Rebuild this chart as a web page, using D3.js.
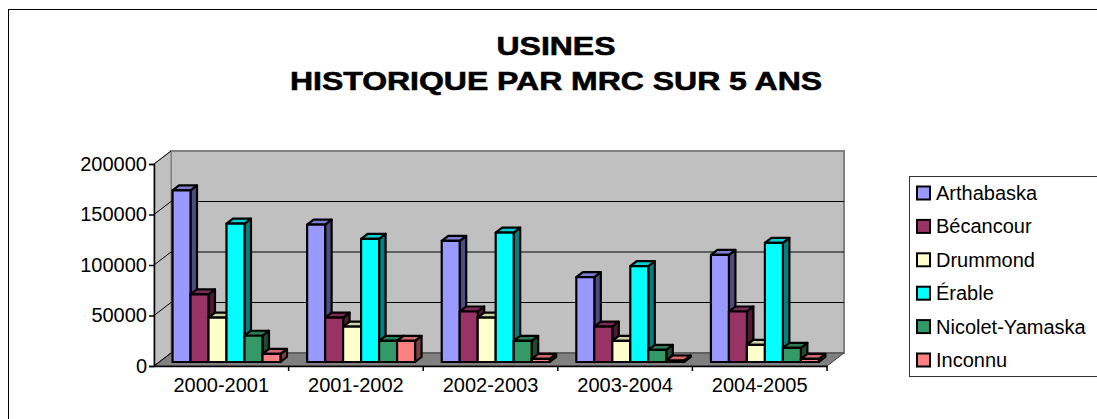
<!DOCTYPE html>
<html>
<head>
<meta charset="utf-8">
<script src="https://cdn.jsdelivr.net/npm/d3@7"></script>
<style>
  body { margin: 0; background: #fff; }
  text { font-family: "Liberation Sans", Arial, sans-serif; }
</style>
</head>
<body>
<div id="chart"></div>
<script>
// data
var categories = ["2000-2001", "2001-2002", "2002-2003", "2003-2004", "2004-2005"];
var seriesNames = ["Arthabaska", "Bécancour", "Drummond", "Érable", "Nicolet-Yamaska", "Inconnu"];
var seriesColors = ["#9999FF", "#993366", "#FFFFCC", "#00FFFF", "#339966", "#FF8080"];
var arthabaska = [170000, 136000, 120000, 84000, 106000];
var becancour = [67000, 44000, 50000, 35000, 50000];
var drummond = [44000, 35000, 44000, 21000, 17000];
var erable = [137000, 122000, 128000, 95000, 118000];
var nicoletYamaska = [26000, 21000, 21000, 12000, 14000];
var inconnu = [8000, 21000, 3000, 1500, 3000];
var yTicks = [0, 50000, 100000, 150000, 200000];
var titleLines = ["USINES", "HISTORIQUE PAR MRC SUR 5 ANS"];

var seriesValues = [arthabaska, becancour, drummond, erable, nicoletYamaska, inconnu];

var width = 1097, height = 419;

// front plane of the 3d box
var plot = {left: 154, right: 827, top: 164, bottom: 366};
// depth offset of the back wall
var wallDx = 17, wallDy = -13;
// bars sit at part of the depth
var barDx0 = 5.2, barDy0 = -4, barDx = 6.5, barDy = -5;

var svg = d3.select("#chart").append("svg")
    .attr("width", width)
    .attr("height", height);

// outer chart border
svg.append("rect")
    .attr("x", 8.5).attr("y", 9.5)
    .attr("width", 1100).attr("height", 420)
    .attr("fill", "none")
    .attr("stroke", "#000")
    .attr("stroke-width", 1);

// title
svg.selectAll(".title")
    .data(titleLines)
    .enter()
    .append("text")
    .attr("class", "title")
    .attr("text-anchor", "middle")
    .attr("font-weight", "bold")
    .attr("font-size", 26)
    .attr("stroke", "#000")
    .attr("stroke-width", 0.6)
    .attr("transform", function(d, i) { return "translate(556," + (55 + i * 35) + ") scale(1.23,1)"; })
    .text(function(d) { return d; });

// scales
var y = d3.scaleLinear().domain([0, 200000]).range([plot.bottom, plot.top]);
var x0 = d3.scaleBand().domain(categories).range([plot.left, plot.right]);
var groupGap = x0.bandwidth() * 0.198;
var x1 = d3.scaleBand().domain(seriesNames).range([groupGap / 2, x0.bandwidth() - groupGap / 2]);
var color = d3.scaleOrdinal().domain(seriesNames).range(seriesColors);

function pts(a) { return a.map(function(p) { return p.join(","); }).join(" "); }

// back wall
svg.append("polygon")
    .attr("points", pts([[plot.left + wallDx, y(200000) + wallDy], [plot.right + wallDx, y(200000) + wallDy],
        [plot.right + wallDx, y(0) + wallDy], [plot.left + wallDx, y(0) + wallDy]]))
    .attr("fill", "#C0C0C0")
    .attr("stroke", "#808080")
    .attr("stroke-width", 2);

// side wall
svg.append("polygon")
    .attr("points", pts([[plot.left, y(200000)], [plot.left + wallDx, y(200000) + wallDy],
        [plot.left + wallDx, y(0) + wallDy], [plot.left, y(0)]]))
    .attr("fill", "#C0C0C0")
    .attr("stroke", "#808080")
    .attr("stroke-width", 1);

// floor
svg.append("polygon")
    .attr("points", pts([[plot.left, y(0)], [plot.left + wallDx, y(0) + wallDy],
        [plot.right + wallDx, y(0) + wallDy], [plot.right, y(0)]]))
    .attr("fill", "#808080")
    .attr("stroke", "#404040")
    .attr("stroke-width", 1);

// gridlines on back and side walls
var grid = yTicks.filter(function(d) { return d > 0 && d < 200000; });
svg.selectAll(".gridBack")
    .data(grid)
    .enter()
    .append("line")
    .attr("x1", plot.left + wallDx).attr("x2", plot.right + wallDx)
    .attr("y1", function(d) { return y(d) + wallDy; })
    .attr("y2", function(d) { return y(d) + wallDy; })
    .attr("stroke", "#000")
    .attr("stroke-width", 1);
svg.selectAll(".gridSide")
    .data(yTicks)
    .enter()
    .append("line")
    .attr("x1", plot.left).attr("x2", plot.left + wallDx)
    .attr("y1", function(d) { return y(d); })
    .attr("y2", function(d) { return y(d) + wallDy; })
    .attr("stroke", "#000")
    .attr("stroke-width", 1);

// bars, drawn left to right so the next front face hides the side face
var bars = [];
categories.forEach(function(c, ci) {
    seriesNames.forEach(function(s, si) {
        bars.push({cat: c, name: s, value: seriesValues[si][ci]});
    });
});

var barGroup = svg.selectAll(".bar")
    .data(bars)
    .enter()
    .append("g")
    .attr("class", "bar");

function barGeom(d) {
    var xl = x0(d.cat) + x1(d.name) + barDx0;
    var xr = xl + x1.bandwidth();
    var yt = y(d.value) + barDy0;
    var yb = y(0) + barDy0;
    return {xl: xl, xr: xr, yt: yt, yb: yb};
}

// side face
barGroup.append("polygon")
    .attr("points", function(d) {
        var g = barGeom(d);
        return pts([[g.xr, g.yt], [g.xr + barDx, g.yt + barDy], [g.xr + barDx, g.yb + barDy], [g.xr, g.yb]]);
    })
    .attr("fill", function(d) { var c = d3.rgb(color(d.name)); return d3.rgb(c.r * 0.5, c.g * 0.5, c.b * 0.5); })
    .attr("stroke", "#000")
    .attr("stroke-width", 2.2)
    .attr("stroke-linejoin", "round");

// top face
barGroup.append("polygon")
    .attr("points", function(d) {
        var g = barGeom(d);
        return pts([[g.xl, g.yt], [g.xl + barDx, g.yt + barDy], [g.xr + barDx, g.yt + barDy], [g.xr, g.yt]]);
    })
    .attr("fill", function(d) { var c = d3.rgb(color(d.name)); return d3.rgb(c.r * 0.82, c.g * 0.82, c.b * 0.82); })
    .attr("stroke", "#000")
    .attr("stroke-width", 2.2)
    .attr("stroke-linejoin", "round");

// front face
barGroup.append("rect")
    .attr("x", function(d) { return barGeom(d).xl; })
    .attr("y", function(d) { return barGeom(d).yt; })
    .attr("width", x1.bandwidth())
    .attr("height", function(d) { var g = barGeom(d); return g.yb - g.yt; })
    .attr("fill", function(d) { return color(d.name); })
    .attr("stroke", "#000")
    .attr("stroke-width", 2.2)
    .attr("stroke-linejoin", "round");

// y axis
var yAxis = svg.append("g")
    .attr("transform", "translate(" + plot.left + ",0)")
    .call(d3.axisLeft(y).tickValues(yTicks).tickSize(5).tickPadding(2).tickFormat(d3.format("d")));
yAxis.select(".domain").attr("stroke", "#000").attr("stroke-width", 1.5);
yAxis.selectAll(".tick line").attr("stroke", "#000").attr("stroke-width", 1.5);
yAxis.selectAll(".tick text")
    .attr("font-size", 20)
    .attr("font-family", "Liberation Sans, Arial, sans-serif")
    .attr("fill", "#000");

// x axis
var xAxis = svg.append("g")
    .attr("transform", "translate(0," + plot.bottom + ")")
    .call(d3.axisBottom(x0).tickSize(0).tickPadding(12));
xAxis.select(".domain").attr("stroke", "#000").attr("stroke-width", 1.5);
xAxis.selectAll(".tick text")
    .attr("font-size", 20)
    .attr("font-family", "Liberation Sans, Arial, sans-serif")
    .attr("fill", "#000");

// category separators on the x axis
var bounds = categories.map(function(c) { return x0(c); }).concat([plot.right]);
svg.selectAll(".xsep")
    .data(bounds.slice(1))
    .enter()
    .append("line")
    .attr("x1", function(d) { return d; }).attr("x2", function(d) { return d; })
    .attr("y1", plot.bottom).attr("y2", plot.bottom + 5)
    .attr("stroke", "#000")
    .attr("stroke-width", 1.5);

// legend
var legend = svg.append("g");
legend.append("rect")
    .attr("x", 909.5).attr("y", 176.5)
    .attr("width", 200).attr("height", 200)
    .attr("fill", "#fff")
    .attr("stroke", "#333")
    .attr("stroke-width", 1);

var legendItem = legend.selectAll(".legendItem")
    .data(seriesNames)
    .enter()
    .append("g")
    .attr("class", "legendItem")
    .attr("transform", function(d, i) { return "translate(917," + (193 + i * 33.4) + ")"; });

legendItem.append("rect")
    .attr("x", 0).attr("y", -6.5)
    .attr("width", 13).attr("height", 13)
    .attr("fill", function(d) { return color(d); })
    .attr("stroke", "#000")
    .attr("stroke-width", 2);

legendItem.append("text")
    .attr("x", 19)
    .attr("y", 7)
    .attr("font-size", 20)
    .text(function(d) { return d; });
</script>
</body>
</html>
